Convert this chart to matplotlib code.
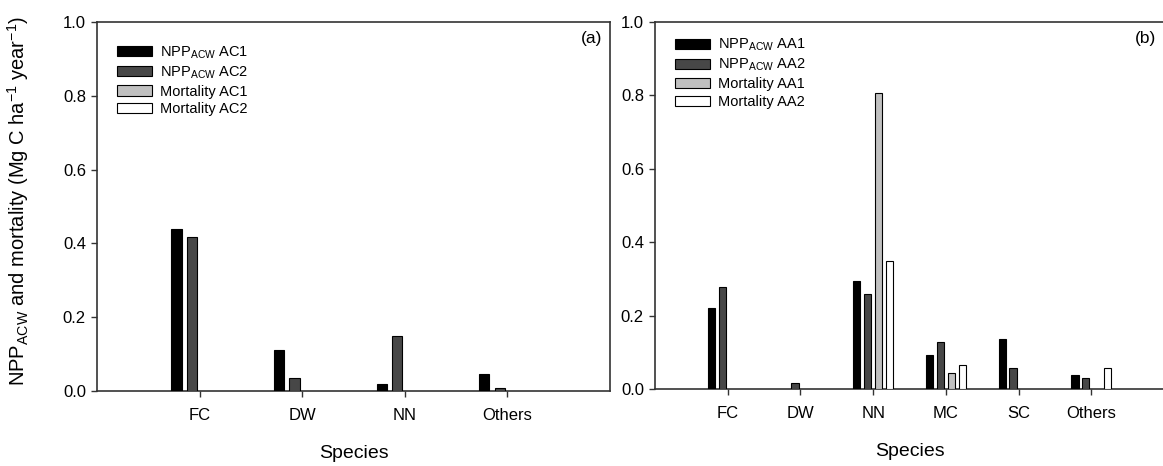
import matplotlib
matplotlib.use("Agg")
import matplotlib.pyplot as plt
import numpy as np

plt.rcParams['font.family'] = ['Liberation Sans', 'DejaVu Sans']
plt.rcParams['mathtext.fontset'] = 'custom'
plt.rcParams['mathtext.rm'] = 'Liberation Sans'
plt.rcParams['mathtext.it'] = 'Liberation Sans:italic'
plt.rcParams['mathtext.bf'] = 'Liberation Sans:bold'

# Panel (a)
species_a = ["FC", "DW", "NN", "Others"]
npp_ac1 = [0.440, 0.111, 0.020, 0.045]
npp_ac2 = [0.418, 0.034, 0.149, 0.007]
mort_ac1 = [0.0, 0.0, 0.0, 0.0]
mort_ac2 = [0.0, 0.0, 0.0, 0.0]
labels_a = [r"NPP$_{\mathrm{ACW}}$ AC1", r"NPP$_{\mathrm{ACW}}$ AC2",
            "Mortality AC1", "Mortality AC2"]

# Panel (b)
species_b = ["FC", "DW", "NN", "MC", "SC", "Others"]
npp_aa1 = [0.222, 0.0, 0.294, 0.094, 0.135, 0.037]
npp_aa2 = [0.277, 0.016, 0.260, 0.127, 0.057, 0.031]
mort_aa1 = [0.0, 0.0, 0.806, 0.044, 0.0, 0.0]
mort_aa2 = [0.0, 0.0, 0.350, 0.065, 0.0, 0.056]
labels_b = [r"NPP$_{\mathrm{ACW}}$ AA1", r"NPP$_{\mathrm{ACW}}$ AA2",
            "Mortality AA1", "Mortality AA2"]

yticks = [0.0, 0.2, 0.4, 0.6, 0.8, 1.0]
colors = ["#000000", "#474747", "#c0c0c0", "#ffffff"]

W, H = 1163, 466
fig = plt.figure(figsize=(W / 100, H / 100), dpi=100)

def px_axes(x0, y0, x1, y1):
    return fig.add_axes([x0 / W, 1 - y1 / H, (x1 - x0) / W, (y1 - y0) / H])

ax1 = px_axes(97, 22, 610, 391)
ax2 = px_axes(655, 22, 1164, 389)

def draw(ax, species, series, labels, tag, leg_anchor):
    x = np.arange(1, len(species) + 1)
    offsets = [-0.225, -0.075, 0.075, 0.225]
    containers = []
    for vals, off, c, lab in zip(series, offsets, colors, labels):
        b = ax.bar(x + off, vals, width=0.1, color=c, edgecolor="black",
                   linewidth=0.8, label=lab, zorder=3)
        containers.append((b, np.asarray(vals)))
    ax.set_xlim(0, len(species) + 1)
    ax.set_ylim(0, 1.0)
    ax.set_xticks(x)
    ax.set_xticklabels(species, fontsize=12)
    ax.set_yticks(yticks)
    ax.set_yticklabels([f"{v:.1f}" for v in yticks], fontsize=12)
    ax.tick_params(axis="both", direction="out", length=4, width=1.0, color="#333333")
    ax.tick_params(axis="x", pad=8)
    ax.tick_params(axis="y", pad=4)
    for s in ax.spines.values():
        s.set_linewidth(1.2)
        s.set_color("#333333")
    ax.set_xlabel("Species", fontsize=14, labelpad=16)
    ax.text(0.985, 0.955, tag, transform=ax.transAxes, ha="right", va="center", fontsize=12.5)
    leg = ax.legend(handles=[c for c, _ in containers], loc="upper left",
                    bbox_to_anchor=leg_anchor,
                    frameon=False, fontsize=10.5, handlelength=2.4, handleheight=0.7,
                    handletextpad=0.55, labelspacing=0.25, borderaxespad=0)
    # hide zero-height bars (after legend creation so legend keys keep their style)
    for b, vals in containers:
        for rect, v in zip(b.patches, vals):
            if v == 0:
                rect.set_visible(False)
    return leg

draw(ax1, species_a, [npp_ac1, npp_ac2, mort_ac1, mort_ac2], labels_a, "(a)", (0.028, 0.955))
draw(ax2, species_b, [npp_aa1, npp_aa2, mort_aa1, mort_aa2], labels_b, "(b)", (0.027, 0.975))

ax1.set_ylabel(r"NPP$_{\mathrm{ACW}}$ and mortality (Mg C ha$^{-1}$ year$^{-1}$)", fontsize=14.5)
ax1.yaxis.set_label_coords(-0.128, 0.515)

fig.savefig("out.png", dpi=100)
